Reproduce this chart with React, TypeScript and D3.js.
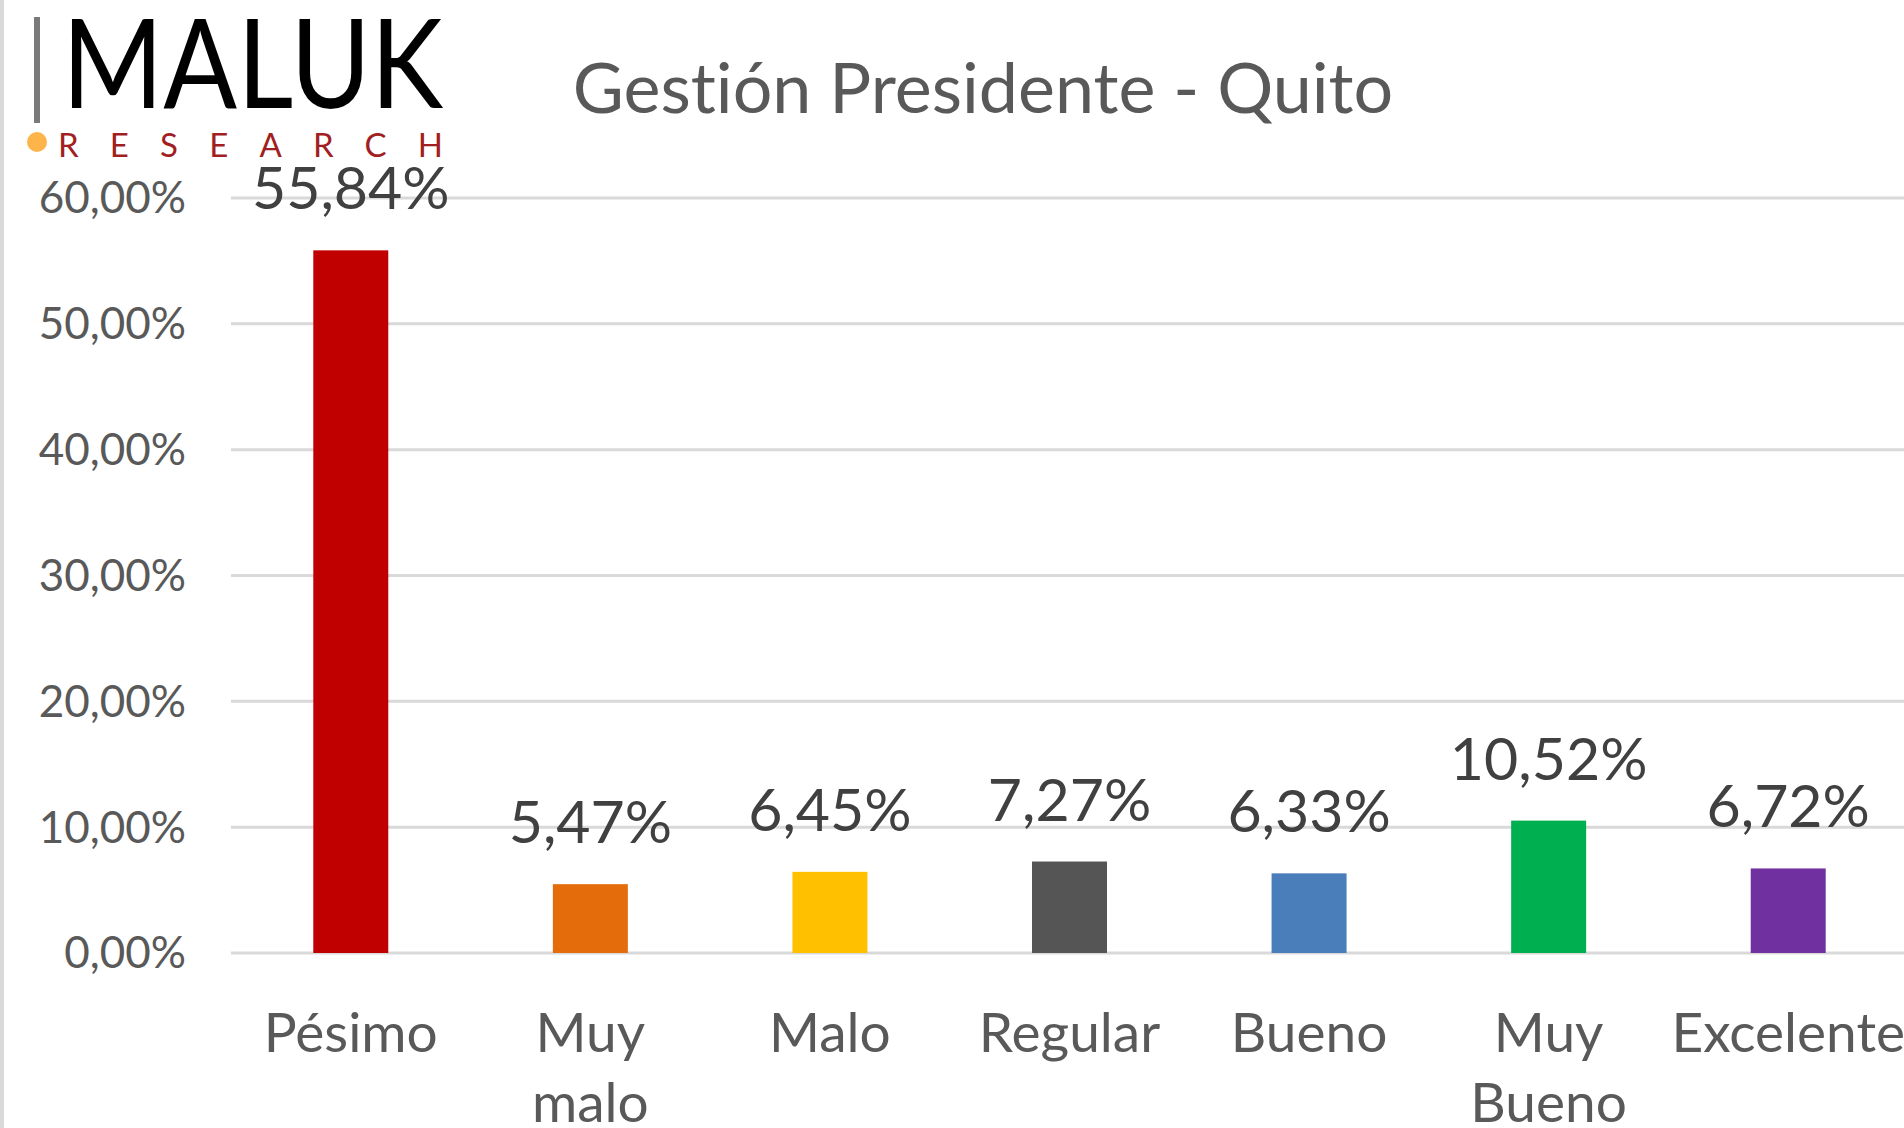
import React from "react";
import * as d3 from "d3";

const categories = ["Pésimo", "Muy malo", "Malo", "Regular", "Bueno", "Muy Bueno", "Excelente"];
const values = [0.5584, 0.0547, 0.0645, 0.0727, 0.0633, 0.1052, 0.0672];
const colors = ["#C00000", "#E46C0A", "#FFC000", "#555555", "#4A7EBB", "#00B050", "#7030A0"];
const yTicks = [0, 0.1, 0.2, 0.3, 0.4, 0.5, 0.6];
const title = "Gestión Presidente - Quito";

const W = 1904;
const H = 1128;
const FONT = "Lato, Carlito, Calibri, sans-serif";
const noLig = { fontVariantLigatures: "none" as const, fontFeatureSettings: '"liga" 0, "clig" 0' };

const locale = d3.formatLocale({ decimal: ",", thousands: ".", grouping: [3], currency: ["", "€"] });
const pct = locale.format(".2%");

export default function App() {
  const x = d3
    .scaleBand<string>()
    .domain(categories)
    .range([231, 1908])
    .paddingInner(0.687)
    .paddingOuter(0.687 / 2);
  const y = d3.scaleLinear().domain([0, 0.6]).range([953, 198]);

  return (
    <div style={{ position: "absolute", left: 0, top: 0 }}>
      <svg width={W} height={H} style={{ display: "block", background: "#fff", ...noLig }}>
        <rect x={0} y={0} width={W} height={H} fill="#fff" />
        <rect x={0} y={0} width={4} height={H} fill="#d9d9d9" />

        {/* logo */}
        <rect x={34} y={17} width={6} height={106} fill="#7a7a7a" />
        <text x={62} y={108} fontFamily={FONT} fontSize={124} fill="#000" textLength={381} lengthAdjust="spacingAndGlyphs">
          MALUK
        </text>
        <circle cx={37} cy={142} r={10} fill="#FDB44B" />
        <text x={58} y={157} fontFamily={FONT} fontSize={33} fill="#A11E22" textLength={385} lengthAdjust="spacing">
          RESEARCH
        </text>

        {/* title */}
        <text x={983} y={113} textAnchor="middle" fontFamily={FONT} fontSize={70} fill="#595959" style={noLig}>
          {title}
        </text>

        {/* gridlines and y axis */}
        {yTicks.map((t) => (
          <g key={t}>
            <line x1={231} x2={W} y1={y(t)} y2={y(t)} stroke="#d9d9d9" strokeWidth={3} />
            <text
              x={186}
              y={y(t)}
              dy="0.35em"
              textAnchor="end"
              fontFamily={FONT}
              fontSize={44}
              fill="#595959"
            >
              {pct(t)}
            </text>
          </g>
        ))}

        {/* bars */}
        {categories.map((c, i) => (
          <rect
            key={c}
            x={x(c)}
            y={y(values[i])}
            width={x.bandwidth()}
            height={y(0) - y(values[i])}
            fill={colors[i]}
          />
        ))}

        {/* value labels */}
        {categories.map((c, i) => (
          <text
            key={c}
            x={(x(c) as number) + x.bandwidth() / 2}
            y={y(values[i]) - 41}
            textAnchor="middle"
            fontFamily={FONT}
            fontSize={59}
            fill="#404040"
          >
            {pct(values[i])}
          </text>
        ))}

        {/* category labels */}
        {categories.map((c) => {
          const cx = (x(c) as number) + x.bandwidth() / 2;
          const lines = c.split(" ");
          return (
            <text key={c} textAnchor="middle" fontFamily={FONT} fontSize={55} fill="#595959">
              {lines.map((l, j) => (
                <tspan key={j} x={cx} y={1052 + j * 70}>
                  {l}
                </tspan>
              ))}
            </text>
          );
        })}
      </svg>
    </div>
  );
}
